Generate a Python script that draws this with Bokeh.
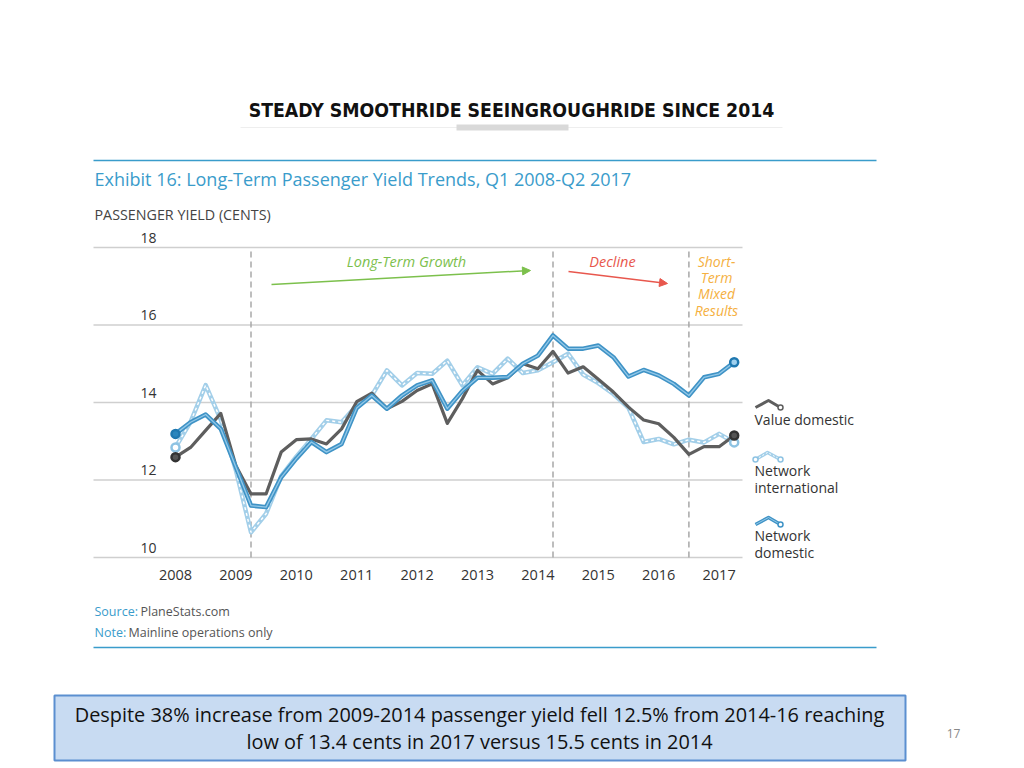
from bokeh.plotting import figure
from bokeh.models import Range1d, Arrow, NormalHead
from bokeh.core.properties import value
from bokeh.embed import file_html
from bokeh.resources import INLINE

# ---------------- data ----------------
years = [2008, 2009, 2010, 2011, 2012, 2013, 2014, 2015, 2016, 2017]
year_labels = ["2008", "2009", "2010", "2011", "2012", "2013", "2014", "2015", "2016", "2017"]
value_ticks = [10, 12, 14, 16, 18]
value_tick_labels = ["10", "12", "14", "16", "18"]

# quarters Q1 2008 .. Q2 2017
quarter_year = [2008] * 4 + [2009] * 4 + [2010] * 4 + [2011] * 4 + [2012] * 4 + \
               [2013] * 4 + [2014] * 4 + [2015] * 4 + [2016] * 4 + [2017] * 2
quarter_num = [1, 2, 3, 4] * 9 + [1, 2]

value_domestic = [12.59, 12.84, 13.28, 13.72, 12.37, 11.64, 11.64, 12.72,
                  13.04, 13.06, 12.93, 13.32, 14.02, 14.24, 13.84, 14.03,
                  14.31, 14.48, 13.46, 14.10, 14.83, 14.48, 14.64, 15.00,
                  14.87, 15.32, 14.76, 14.92, 14.60, 14.27, 13.88, 13.55,
                  13.45, 13.10, 12.66, 12.86, 12.86, 13.15]
network_international = [12.84, 13.50, 14.45, 13.55, 12.25, 10.65, 11.13, 12.10,
                         12.60, 13.06, 13.54, 13.49, 13.92, 14.18, 14.83, 14.44,
                         14.76, 14.74, 15.08, 14.44, 14.91, 14.74, 15.13, 14.76,
                         14.83, 15.04, 15.26, 14.72, 14.50, 14.22, 13.86, 12.98,
                         13.06, 12.92, 13.04, 12.97, 13.19, 12.97]
network_domestic = [13.19, 13.49, 13.69, 13.32, 12.33, 11.34, 11.30, 12.07,
                    12.55, 12.98, 12.72, 12.93, 13.86, 14.18, 13.84, 14.18,
                    14.44, 14.57, 13.84, 14.30, 14.64, 14.64, 14.66, 15.00,
                    15.21, 15.73, 15.39, 15.39, 15.47, 15.17, 14.67, 14.84,
                    14.70, 14.48, 14.18, 14.65, 14.74, 15.04]

phase_breaks = [2009.25, 2014.25, 2016.5]   # Q2 2009, Q2 2014, Q3 2016

period_time = [y + (q - 1) / 4 for y, q in zip(quarter_year, quarter_num)]

# ---------------- layout constants ----------------
W, H = 1020, 766
X_2008 = 175.0       # page x of Q1 2008
PX_YEAR = 60.4       # page px per year
Y_10 = 557.0         # page y of 10 cents
PX_CENT = 38.75      # page px per cent

p = figure(width=W, height=H, output_backend="svg", toolbar_location=None,
           x_range=Range1d(0, W), y_range=Range1d(H, 0),
           x_axis_type=None, y_axis_type=None, min_border=0,
           background_fill_color="white", border_fill_color="white",
           outline_line_color=None)
p.extra_x_ranges = {"t": Range1d(2008 + (0 - X_2008) / PX_YEAR, 2008 + (W - X_2008) / PX_YEAR)}
p.extra_y_ranges = {"v": Range1d(10 - (H - Y_10) / PX_CENT, 10 + Y_10 / PX_CENT)}

F = value("Open Sans")

# ---------------- slide title ----------------
p.text(x=[511], y=[110], text=["STEADY SMOOTHRIDE SEEINGROUGHRIDE SINCE 2014"],
       text_font=value("DejaVu Sans Condensed"),
       text_font_style="bold", text_font_size="19.3px", text_color="#111111",
       text_align="center", text_baseline="middle")
p.segment(x0=[240], x1=[782], y0=[127], y1=[127], line_color="#eeeeee", line_width=1)
p.quad(left=[456], right=[568], top=[124], bottom=[130], fill_color="#d9d9d9", line_color=None)

# ---------------- exhibit frame ----------------
p.segment(x0=[93, 93], x1=[876, 876], y0=[160, 647], y1=[160, 647],
          line_color="#3a9ccb", line_width=1.5)
p.text(x=[94], y=[178], text=["Exhibit 16: Long-Term Passenger Yield Trends, Q1 2008-Q2 2017"],
       text_font=F, text_font_size="18px", text_color="#3a9ccb",
       text_align="left", text_baseline="middle")
p.text(x=[94], y=[214], text=["PASSENGER YIELD (CENTS)"],
       text_font=F, text_font_size="14.3px", text_color="#444444",
       text_align="left", text_baseline="middle")

# gridlines and value labels
p.segment(x0=[93] * len(value_ticks), x1=[742] * len(value_ticks),
          y0=value_ticks, y1=value_ticks, y_range_name="v",
          line_color="#cfcfcf", line_width=1.5)
p.text(x=[156] * len(value_ticks), y=value_ticks, text=value_tick_labels, y_range_name="v",
       y_offset=-5, text_font=F, text_font_size="14px", text_color="#333333",
       text_align="right", text_baseline="bottom")
p.text(x=years, y=[574] * len(years), text=year_labels, x_range_name="t",
       text_font=F, text_font_size="14.5px", text_color="#333333",
       text_align="center", text_baseline="middle")

# phase separators
p.segment(x0=phase_breaks, x1=phase_breaks, y0=[10] * 3, y1=[18] * 3,
          x_range_name="t", y_range_name="v",
          line_color="#a8a8a8", line_width=1.5, line_dash="6 4")

# ---------------- series ----------------
kw = dict(x_range_name="t", y_range_name="v", line_join="round", line_cap="round")
p.line(period_time, network_international, line_color="#a3cfe9", line_width=4.5, **kw)
p.line(period_time, network_international, line_color="white", line_width=1.4,
       line_dash="3 3", x_range_name="t", y_range_name="v")
p.line(period_time, value_domestic, line_color="#5e5e5e", line_width=3.2, **kw)
p.line(period_time, network_domestic, line_color="#3f93c6", line_width=4.5, **kw)
p.line(period_time, network_domestic, line_color="#93c8e8", line_width=1.3, **kw)

ends = [0, len(period_time) - 1]
ex = [period_time[i] for i in ends]
p.scatter(ex, [network_international[i] for i in ends], size=8, marker="circle",
          fill_color="white", line_color="#8ec3e3", line_width=2.5,
          x_range_name="t", y_range_name="v")
p.scatter(ex, [value_domestic[i] for i in ends], size=8, marker="circle",
          fill_color="#555555", line_color="#333333", line_width=2.5,
          x_range_name="t", y_range_name="v")
p.scatter(ex, [network_domestic[i] for i in ends], size=8, marker="circle",
          fill_color=["#2b86bd", "#9fd0ee"], line_color="#1f78b0", line_width=2.5,
          x_range_name="t", y_range_name="v")

# ---------------- annotations ----------------
p.text(x=[406], y=[261], text=["Long-Term Growth"], text_font=F, text_font_style="italic",
       text_font_size="14.5px", text_color="#7cc04c", text_align="center", text_baseline="middle")
p.add_layout(Arrow(x_start=271, y_start=284, x_end=530, y_end=270,
                   line_color="#7cc04c", line_width=1.5,
                   end=NormalHead(size=8, fill_color="#7cc04c", line_color="#7cc04c")))
p.text(x=[612], y=[261], text=["Decline"], text_font=F, text_font_style="italic",
       text_font_size="14.5px", text_color="#e8574d", text_align="center", text_baseline="middle")
p.add_layout(Arrow(x_start=568, y_start=271, x_end=667, y_end=283,
                   line_color="#e8574d", line_width=1.5,
                   end=NormalHead(size=8, fill_color="#e8574d", line_color="#e8574d")))
p.text(x=[716] * 4, y=[261, 277, 293, 310], text=["Short-", "Term", "Mixed", "Results"],
       text_font=F, text_font_style="italic", text_font_size="14px", text_color="#f5b041",
       text_align="center", text_baseline="middle")

# ---------------- legend ----------------
p.line([755, 768, 780], [407, 400, 407], line_color="#5e5e5e", line_width=3, line_join="round")
p.scatter([780], [407], size=5, fill_color="white", line_color="#5e5e5e", line_width=1.5)
p.line([755, 767, 780], [459, 452, 459], line_color="#a3cfe9", line_width=3.5, line_join="round")
p.line([755, 767, 780], [459, 452, 459], line_color="white", line_width=1, line_dash="2 2")
p.scatter([755, 780], [459, 459], size=5, fill_color="white", line_color="#8ec3e3", line_width=1.5)
p.line([755, 768, 780], [524, 517, 524], line_color="#3f93c6", line_width=3.5, line_join="round")
p.line([755, 768, 780], [524, 517, 524], line_color="#93c8e8", line_width=1)
p.scatter([780], [524], size=5, fill_color="white", line_color="#3f93c6", line_width=1.5)
p.text(x=[754] * 5, y=[419, 470, 487, 535, 552],
       text=["Value domestic", "Network", "international", "Network", "domestic"],
       text_font=F, text_font_size="14px", text_color="#333333",
       text_align="left", text_baseline="middle")

# ---------------- source / note ----------------
p.text(x=[94, 94], y=[611, 632], text=["Source:", "Note:"], text_font=F, text_font_size="12.5px",
       text_color="#3a9ccb", text_align="left", text_baseline="middle")
p.text(x=[140, 128], y=[611, 632], text=["PlaneStats.com", "Mainline operations only"],
       text_font=F, text_font_size="12.5px", text_color="#555555",
       text_align="left", text_baseline="middle")

# ---------------- bottom call-out ----------------
p.quad(left=[54], right=[905], top=[695], bottom=[760], fill_color="#c8dbf2",
       line_color="#5b8fd0", line_width=2)
p.text(x=[479, 479], y=[714, 741],
       text=["Despite 38% increase from 2009-2014 passenger yield fell 12.5% from 2014-16 reaching",
             "low of 13.4 cents in 2017 versus 15.5 cents in 2014"],
       text_font=F, text_font_size="19.9px", text_color="#111111",
       text_align="center", text_baseline="middle")
p.text(x=[953], y=[733], text=["17"], text_font=F, text_font_size="12px",
       text_color="#888888", text_align="center", text_baseline="middle")

open("out.html", "w").write(file_html(p, INLINE))
